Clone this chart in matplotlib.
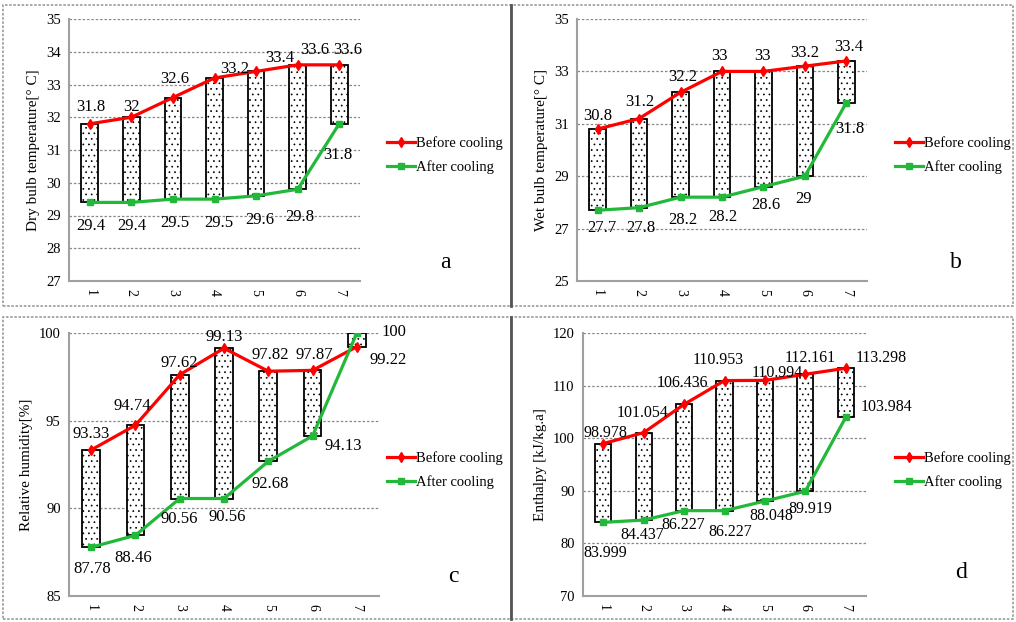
# -*-coding=utf-8-*-

import numpy as np
import matplotlib.pyplot as plt
from matplotlib.patches import Rectangle
from matplotlib.lines import Line2D

plt.rcParams['font.family'] = ['Liberation Serif', 'DejaVu Serif']
plt.rcParams['hatch.linewidth'] = 0.5

points = ['1', '2', '3', '4', '5', '6', '7']

dry_before = [31.8, 32, 32.6, 33.2, 33.4, 33.6, 33.6]
dry_after = [29.4, 29.4, 29.5, 29.5, 29.6, 29.8, 31.8]

wet_before = [30.8, 31.2, 32.2, 33, 33, 33.2, 33.4]
wet_after = [27.7, 27.8, 28.2, 28.2, 28.6, 29, 31.8]

rh_before = [93.33, 94.74, 97.62, 99.13, 97.82, 97.87, 99.22]
rh_after = [87.78, 88.46, 90.56, 90.56, 92.68, 94.13, 100]

enth_before = [98.978, 101.054, 106.436, 110.953, 110.994, 112.161, 113.298]
enth_after = [83.999, 84.437, 86.227, 86.227, 88.048, 89.919, 103.984]

RED = '#ff0000'
GREEN = '#22b83a'

W, H = 1016, 622


def px_axes(fig, x0, y0, x1, y1):
	# pixel box (top-left origin) -> figure axes
	return fig.add_axes([x0 / W, 1 - y1 / H, (x1 - x0) / W, (y1 - y0) / H])


def draw_panel(ax, before, after, ylim, ystep, ylabel, letter, letter_xy,
			   off_b, off_a, legend_xy, fmt, fs=12):
	x = np.arange(len(points))
	lo = np.minimum(before, after)
	hi = np.maximum(before, after)
	ax.bar(x, hi - lo, bottom=lo, width=0.4, color='white', edgecolor='black',
		   hatch='...', linewidth=1.3, zorder=2)
	ax.plot(x, before, '-', color=RED, lw=2.3, marker='d', ms=5, zorder=3)
	ax.plot(x, after, '-', color=GREEN, lw=2.3, marker='s', ms=4.5, zorder=3)

	for i in range(len(points)):
		ax.annotate(fmt(before[i]), (x[i], before[i]), xytext=(off_b[i][0], -off_b[i][1]),
					textcoords='offset pixels', ha='center', va='center', fontsize=fs, zorder=4)
		ax.annotate(fmt(after[i]), (x[i], after[i]), xytext=(off_a[i][0], -off_a[i][1]),
					textcoords='offset pixels', ha='center', va='center', fontsize=fs, zorder=4)

	ax.set_xlim(-0.5, len(points) - 0.5)
	ax.set_ylim(*ylim)
	ax.set_yticks(np.arange(ylim[0], ylim[1] + 0.001, ystep))
	ax.set_xticks(x)
	ax.set_xticklabels(points, rotation=-90, fontsize=10)
	ax.tick_params(axis='y', labelsize=10.5, length=0, pad=6)
	ax.tick_params(axis='x', length=0, pad=6)
	ax.yaxis.grid(True, linestyle=(0, (2, 1.5)), color='#888888', lw=0.9, zorder=0)
	ax.set_axisbelow(True)
	for s in ['top', 'right']:
		ax.spines[s].set_visible(False)
	for s in ['left', 'bottom']:
		ax.spines[s].set_color('#a0a0a0')
		ax.spines[s].set_linewidth(1.5)
	ax.set_ylabel(ylabel, fontsize=11, labelpad=4)

	fig = ax.figure
	fig.text(letter_xy[0] / W, 1 - letter_xy[1] / H, letter, fontsize=17,
			 ha='center', va='center')
	handles = [Line2D([], [], color=RED, lw=2.3, marker='d', ms=5),
			   Line2D([], [], color=GREEN, lw=2.3, marker='s', ms=4.5)]
	fig.legend(handles, ['Before cooling', 'After cooling'], loc='center left',
			   bbox_to_anchor=(legend_xy[0] / W, 1 - legend_xy[1] / H),
			   frameon=False, fontsize=10.5, handlelength=1.9, handletextpad=0.1,
			   labelspacing=0.7, borderpad=0)


def main():
	fig = plt.figure(figsize=(W / 100, H / 100), dpi=100)

	# panel frames
	for (x0, y0, x1, y1) in [(3, 5, 511, 306), (511, 5, 1013, 306),
							 (3, 317, 511, 619), (511, 317, 1013, 619)]:
		fig.patches.append(Rectangle((x0 / W, 1 - y1 / H), (x1 - x0) / W, (y1 - y0) / H,
									 transform=fig.transFigure, fill=False,
									 edgecolor='#999999', lw=1.2, linestyle=(0, (1.5, 1))))
	for (y0, y1) in [(5, 306), (317, 619)]:
		fig.lines.append(Line2D([511 / W, 511 / W], [1 - y0 / H, 1 - y1 / H],
								transform=fig.transFigure, color='#555555', lw=2))

	one = lambda v: ('%g' % v)
	three = lambda v: ('%.3f' % v)

	ax = px_axes(fig, 69, 19, 360, 281)
	draw_panel(ax, dry_before, dry_after, (27, 35), 1, 'Dry bulb temperature[° C]',
			   'a', (445, 263),
			   [(1, -17), (0, -10), (2, -19), (20, -9), (24, -13), (17, -15), (9, -15)],
			   [(1, 24), (0, 24), (2, 24), (4, 24), (4, 24), (2, 28), (-1, 31)],
			   (380, 155), one)

	ax = px_axes(fig, 577, 19, 867, 281)
	draw_panel(ax, wet_before, wet_after, (25, 35), 2, 'Wet bulb temperature[° C]',
			   'b', (956, 263),
			   [(0, -13), (1, -17), (2, -15), (-3, -15), (-1, -15), (0, -13), (2, -14)],
			   [(4, 18), (2, 20), (2, 23), (1, 20), (2, 18), (-1, 23), (4, 26)],
			   (888, 155), one)

	ax = px_axes(fig, 69, 333, 379, 596)
	draw_panel(ax, rh_before, rh_after, (85, 100), 5, 'Relative humidity[%]',
			   'c', (453, 576),
			   [(0, -16), (-3, -19), (0, -12), (0, -11), (2, -16), (2, -15), (31, 13)],
			   [(1, 22), (-2, 23), (0, 20), (3, 18), (2, 23), (31, 10), (37, -1)],
			   (380, 470), one)

	ax = px_axes(fig, 583, 333, 866, 596)
	draw_panel(ax, enth_before, enth_after, (70, 120), 10, 'Enthalpy [kJ/kg.a]',
			   'd', (961, 573),
			   [(2, -11), (-1, -20), (-2, -21), (-6, -21), (12, -7), (5, -16), (35, -10)],
			   [(2, 31), (-1, 15), (-1, 14), (6, 21), (6, 15), (5, 18), (41, -10)],
			   (888, 470), three, fs=11.5)

	plt.savefig('out.png', dpi=100)


if __name__ == '__main__':
	main()
